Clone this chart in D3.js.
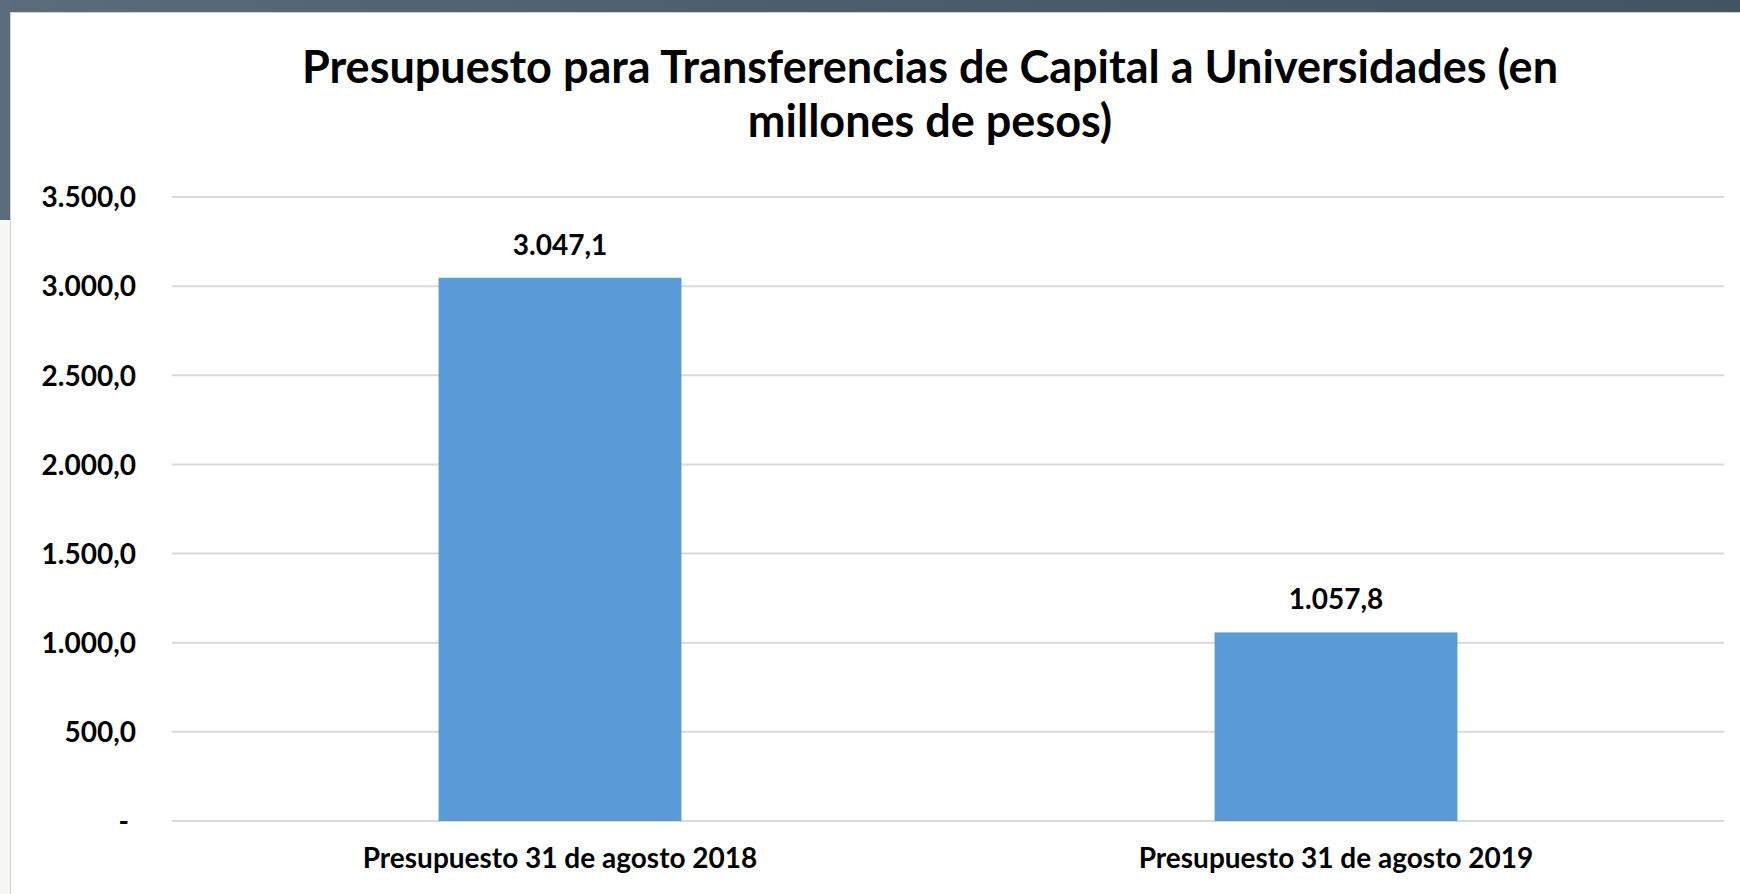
<!DOCTYPE html>
<html lang="es">
<head>
  <meta charset="UTF-8">
  <script src="https://d3js.org/d3.v7.min.js"></script>
  <style>
    body { margin: 0; background: #ffffff; }
    text { font-family: Lato, "Open Sans", sans-serif; font-weight: bold; fill: #000; }
    .grid line { stroke: #d9d9d9; stroke-width: 2; }
    .bar { fill: #5b9bd5; }
  </style>
  <title>Presupuesto para Transferencias de Capital a Universidades</title>
</head>
<body>
  <div id="chart"></div>
  <script>
    // data
    var categories = ["Presupuesto 31 de agosto 2018", "Presupuesto 31 de agosto 2019"];
    var values = [3047.1, 1057.8];
    var yTicks = [0, 500, 1000, 1500, 2000, 2500, 3000, 3500];
    var titleLines = ["Presupuesto para Transferencias de Capital a Universidades (en", "millones de pesos)"];

    var width = 1740, height = 894;
    var plot = { left: 172, right: 1724, top: 197, bottom: 821 };

    var es = d3.formatLocale({ decimal: ",", thousands: ".", grouping: [3], currency: ["$", ""] });
    var fmt = es.format(",.1f");

    var svg = d3.select("#chart").append("svg")
        .attr("width", width)
        .attr("height", height);

    // slide background bits (dark strip top and left)
    var grad = svg.append("defs").append("linearGradient")
        .attr("id", "bg").attr("x1", 0).attr("y1", 0).attr("x2", 1).attr("y2", 0);
    grad.append("stop").attr("offset", "0%").attr("stop-color", "#5a6b7b");
    grad.append("stop").attr("offset", "50%").attr("stop-color", "#4b5c6c");
    grad.append("stop").attr("offset", "100%").attr("stop-color", "#435363");
    svg.append("rect").attr("x", 0).attr("y", 0).attr("width", width).attr("height", 12).attr("fill", "url(#bg)");
    svg.append("rect").attr("x", 0).attr("y", 0).attr("width", 10).attr("height", 220).attr("fill", "#5b6c7c");
    svg.append("rect").attr("x", 0).attr("y", 220).attr("width", 10).attr("height", height - 220).attr("fill", "#f8f7f3");
    // chart panel
    svg.append("rect").attr("x", 10.5).attr("y", 12.5).attr("width", width).attr("height", height)
        .attr("fill", "#fff").attr("stroke", "#d0d0d0").attr("stroke-width", 1);

    // scales
    var x = d3.scaleBand()
        .domain(categories)
        .range([plot.left, plot.right])
        .paddingInner(0.687)
        .paddingOuter(0.3435);

    var y = d3.scaleLinear()
        .domain([0, 3500])
        .range([plot.bottom, plot.top]);

    // gridlines
    svg.append("g")
        .attr("class", "grid")
        .selectAll("line")
        .data(yTicks)
        .enter().append("line")
        .attr("x1", plot.left)
        .attr("x2", plot.right)
        .attr("y1", function(d) { return y(d); })
        .attr("y2", function(d) { return y(d); });

    // y axis labels
    var yAxis = svg.append("g")
        .attr("transform", "translate(" + 136 + ",0)")
        .call(d3.axisLeft(y).tickValues(yTicks).tickSize(0).tickPadding(0)
            .tickFormat(function(d) { return d === 0 ? "-" : fmt(d); }));
    yAxis.select(".domain").remove();
    yAxis.selectAll("text")
        .attr("font-size", 28)
        .attr("dy", "0.35em")
        .attr("x", function(d) { return d === 0 ? -7 : 0; });

    // bars
    svg.selectAll(".bar")
        .data(values)
        .enter().append("rect")
        .attr("class", "bar")
        .attr("x", function(d, i) { return x(categories[i]); })
        .attr("width", x.bandwidth())
        .attr("y", function(d) { return y(d); })
        .attr("height", function(d) { return y(0) - y(d); });

    // value labels
    svg.selectAll(".val")
        .data(values)
        .enter().append("text")
        .attr("class", "val")
        .attr("x", function(d, i) { return x(categories[i]) + x.bandwidth() / 2; })
        .attr("y", function(d) { return y(d) - 23; })
        .attr("text-anchor", "middle")
        .attr("font-size", 28)
        .text(function(d) { return fmt(d); });

    // category axis
    var xAxis = svg.append("g")
        .attr("transform", "translate(0," + plot.bottom + ")")
        .call(d3.axisBottom(x).tickSize(0).tickPadding(0));
    xAxis.select(".domain").remove();
    xAxis.selectAll("text")
        .attr("font-size", 28)
        .attr("dy", 0)
        .attr("y", 47);

    // title
    svg.append("text")
        .attr("x", 930)
        .attr("y", 83)
        .attr("text-anchor", "middle")
        .attr("font-size", 45)
        .selectAll("tspan")
        .data(titleLines)
        .enter().append("tspan")
        .attr("x", 930)
        .attr("dy", function(d, i) { return i === 0 ? 0 : 54; })
        .text(function(d) { return d; });
  </script>
</body>
</html>
